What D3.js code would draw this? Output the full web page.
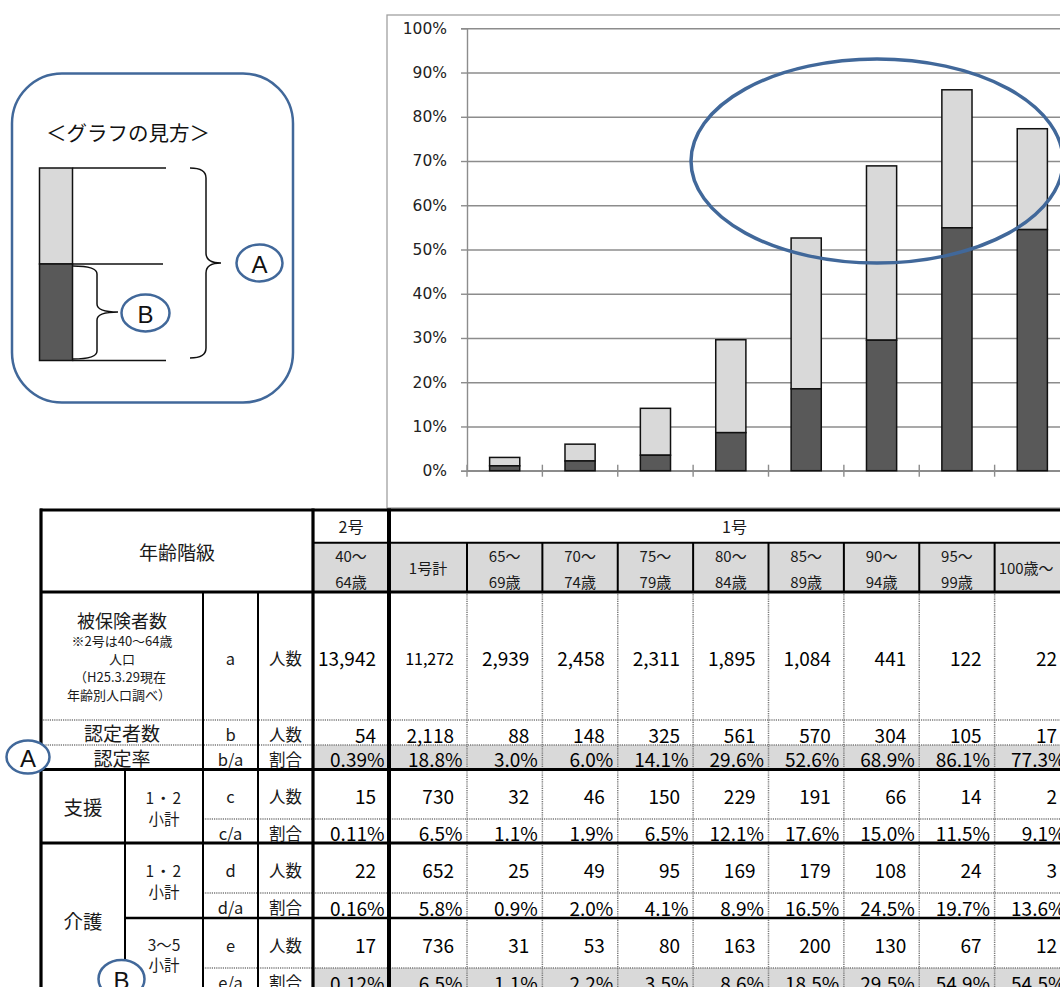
<!DOCTYPE html>
<html lang="ja">
<head>
<meta charset="UTF-8">
<title>年齢階級別 認定率</title>
<style>
  html, body { margin: 0; padding: 0; background: #fff; overflow: hidden; }
  svg { display: block; font-family: "Noto Sans CJK JP", "Noto Sans", sans-serif; }
</style>
</head>
<body>
<svg width="1100" height="1000"></svg>
<script src="https://d3js.org/d3.v7.min.js"></script>
<script>

const categories = ["65～69歳", "70～74歳", "75～79歳", "80～84歳", "85～89歳", "90～94歳", "95～99歳", "100歳～"];
const colTop    = ["40～", "1号計", "65～", "70～", "75～", "80～", "85～", "90～", "95～", "100歳～"];
const colBottom = ["64歳", "", "69歳", "74歳", "79歳", "84歳", "89歳", "94歳", "99歳", ""];

const insured   = [13942, 11272, 2939, 2458, 2311, 1895, 1084, 441, 122, 22];   // a
const certified = [54, 2118, 88, 148, 325, 561, 570, 304, 105, 17];            // b
const certRate  = [0.39, 18.8, 3.0, 6.0, 14.1, 29.6, 52.6, 68.9, 86.1, 77.3];  // b/a
const support12 = [15, 730, 32, 46, 150, 229, 191, 66, 14, 2];                 // c
const supportRate = [0.11, 6.5, 1.1, 1.9, 6.5, 12.1, 17.6, 15.0, 11.5, 9.1];   // c/a
const care12    = [22, 652, 25, 49, 95, 169, 179, 108, 24, 3];                 // d
const care12Rate = [0.16, 5.8, 0.9, 2.0, 4.1, 8.9, 16.5, 24.5, 19.7, 13.6];    // d/a
const care35    = [17, 736, 31, 53, 80, 163, 200, 130, 67, 12];                // e
const care35Rate = [0.12, 6.5, 1.1, 2.2, 3.5, 8.6, 18.5, 29.5, 54.9, 54.5];    // e/a

const yTicks = d3.range(0, 101, 10);

const svg = d3.select("svg");
const LIGHT = "#d9d9d9", DARK = "#595959", BLUE = "#41689a";

// ---- chart ----
const x = d3.scaleBand().domain(categories).range([467, 1070]);
const y = d3.scaleLinear().domain([0, 100]).range([470.7, 28.3]);
const chartRight = 1100;

// outer frame of the chart
svg.append("rect")
    .attr("x", 387).attr("y", 15)
    .attr("width", chartRight).attr("height", 508 - 15)
    .attr("fill", "#fff").attr("stroke", "#a0a0a0").attr("stroke-width", 1.3);

// gridlines
svg.append("g")
    .attr("transform", "translate(467,0)")
    .call(d3.axisLeft(y).tickValues(yTicks).tickSize(-(chartRight - 467)).tickFormat(""))
    .call(g => g.select(".domain").remove())
    .call(g => g.selectAll("line").attr("stroke", "#8c8c8c").attr("stroke-width", 1.4));

// y axis with labels
svg.append("g")
    .attr("transform", "translate(467,0)")
    .call(d3.axisLeft(y).tickValues(yTicks).tickSize(6).tickPadding(14).tickFormat(d => d + "%"))
    .call(g => g.select(".domain").attr("stroke", "#8c8c8c").attr("stroke-width", 1.4))
    .call(g => g.selectAll("line").attr("stroke", "#8c8c8c").attr("stroke-width", 1.4))
    .call(g => g.selectAll("text")
        .attr("font-family", "DejaVu Sans, sans-serif")
        .attr("font-size", 15.5).attr("fill", "#222"));

// x axis line and category ticks
svg.append("line")
    .attr("x1", 467).attr("x2", chartRight)
    .attr("y1", y(0)).attr("y2", y(0))
    .attr("stroke", "#8c8c8c").attr("stroke-width", 1.4);
svg.append("g").selectAll("line")
    .data(categories)
    .join("line")
    .attr("x1", d => x(d)).attr("x2", d => x(d))
    .attr("y1", y(0) - 6).attr("y2", y(0) + 6)
    .attr("stroke", "#8c8c8c").attr("stroke-width", 1.4);

// stacked bars: dark = 介護3～5 (e/a), light = rest up to 認定率 (b/a)
const barW = x.bandwidth() * 0.4;
const barData = categories.map((c, i) => ({ c, total: certRate[i + 2], heavy: care35Rate[i + 2] }));
const bars = svg.append("g");
bars.selectAll(".light")
    .data(barData)
    .join("rect")
    .attr("class", "light")
    .attr("x", d => x(d.c) + (x.bandwidth() - barW) / 2)
    .attr("y", d => y(d.total))
    .attr("width", barW)
    .attr("height", d => y(d.heavy) - y(d.total))
    .attr("fill", LIGHT).attr("stroke", "#111").attr("stroke-width", 1.5);
bars.selectAll(".dark")
    .data(barData)
    .join("rect")
    .attr("class", "dark")
    .attr("x", d => x(d.c) + (x.bandwidth() - barW) / 2)
    .attr("y", d => y(d.heavy))
    .attr("width", barW)
    .attr("height", d => y(0) - y(d.heavy))
    .attr("fill", DARK).attr("stroke", "#111").attr("stroke-width", 1.5);

// highlight ellipse
svg.append("ellipse")
    .attr("cx", 877).attr("cy", 161).attr("rx", 186).attr("ry", 102)
    .attr("fill", "none").attr("stroke", BLUE).attr("stroke-width", 3.5);

// ---- how-to-read panel ----
svg.append("rect")
    .attr("x", 12).attr("y", 73.5).attr("width", 281).attr("height", 329)
    .attr("rx", 50).attr("ry", 50)
    .attr("fill", "#fff").attr("stroke", BLUE).attr("stroke-width", 2.5);
svg.append("text")
    .attr("x", 46).attr("y", 132)
    .attr("dominant-baseline", "central")
    .attr("font-size", 20.5).attr("fill", "#111")
    .text("＜グラフの見方＞");
svg.append("rect").attr("x", 39.5).attr("y", 168).attr("width", 33).attr("height", 96)
    .attr("fill", LIGHT).attr("stroke", "#111").attr("stroke-width", 1.5);
svg.append("rect").attr("x", 39.5).attr("y", 264).attr("width", 33).attr("height", 96.5)
    .attr("fill", DARK).attr("stroke", "#111").attr("stroke-width", 1.5);
[[168, 166], [264, 163], [360.5, 166]].forEach(([ly, lx]) => {
    svg.append("line").attr("x1", 72.5).attr("x2", lx).attr("y1", ly).attr("y2", ly)
        .attr("stroke", "#111").attr("stroke-width", 1.5);
});
// braces
svg.append("path")
    .attr("d", "M190,168 Q206,168 206,178 L206,253 Q206,263 221,263 Q206,263 206,273 L206,348 Q206,358 190,358")
    .attr("fill", "none").attr("stroke", "#111").attr("stroke-width", 1.5);
svg.append("path")
    .attr("d", "M73,266 Q97,266 97,274 L97,304 Q97,312 118,312 Q97,312 97,320 L97,351 Q97,359 73,359")
    .attr("fill", "none").attr("stroke", "#111").attr("stroke-width", 1.5);

function badge(cx, cy, rx, ry, label) {
    svg.append("ellipse").attr("cx", cx).attr("cy", cy).attr("rx", rx).attr("ry", ry)
        .attr("fill", "#fff").attr("stroke", BLUE).attr("stroke-width", 2.5);
    svg.append("text").attr("x", cx).attr("y", cy + 1)
        .attr("text-anchor", "middle").attr("dominant-baseline", "central")
        .attr("font-family", "Liberation Sans, sans-serif")
        .attr("font-size", 24).attr("fill", "#111").text(label);
}
badge(259.5, 263, 23, 18.5, "A");
badge(145.5, 313, 24, 18.5, "B");

// ---- table ----
const colL = [313, 389, ...categories.map(c => x(c))];
const colR = [389, 467, ...categories.map(c => x(c) + x.bandwidth())];
const tableRight = 1100;

const T = svg.append("g");
const rows = [
    { vals: insured,     pct: false, y0: 592,   y1: 720, shade: false, letter: "a",   unit: "人数" },
    { vals: certified,   pct: false, y0: 720,   y1: 745, shade: false, letter: "b",   unit: "人数" },
    { vals: certRate,    pct: true,  y0: 745,   y1: 769.5, shade: true, letter: "b/a", unit: "割合" },
    { vals: support12,   pct: false, y0: 769.5, y1: 819, shade: false, letter: "c",   unit: "人数" },
    { vals: supportRate, pct: true,  y0: 819,   y1: 843, shade: false, letter: "c/a", unit: "割合" },
    { vals: care12,      pct: false, y0: 843,   y1: 893, shade: false, letter: "d",   unit: "人数" },
    { vals: care12Rate,  pct: true,  y0: 893,   y1: 918, shade: false, letter: "d/a", unit: "割合" },
    { vals: care35,      pct: false, y0: 918,   y1: 968, shade: false, letter: "e",   unit: "人数" },
    { vals: care35Rate,  pct: true,  y0: 968,   y1: 993, shade: true,  letter: "e/a", unit: "割合" }
];

// shading
T.append("rect").attr("x", 313).attr("y", 542.7).attr("width", tableRight - 313).attr("height", 592 - 542.7)
    .attr("fill", LIGHT);
rows.filter(r => r.shade).forEach(r => {
    T.append("rect").attr("x", 313).attr("y", r.y0).attr("width", tableRight - 313).attr("height", r.y1 - r.y0)
        .attr("fill", LIGHT);
});

function hline(yy, x1, x2, w, dotted) {
    T.append("line").attr("x1", x1).attr("x2", x2).attr("y1", yy).attr("y2", yy)
        .attr("stroke", dotted ? "#7a7a7a" : "#000").attr("stroke-width", w)
        .attr("stroke-dasharray", dotted ? "1.2,1" : null);
}
function vline(xx, y1, y2, w, dotted) {
    T.append("line").attr("x1", xx).attr("x2", xx).attr("y1", y1).attr("y2", y2)
        .attr("stroke", dotted ? "#7a7a7a" : "#000").attr("stroke-width", w)
        .attr("stroke-dasharray", dotted ? "1.2,1" : null);
}

// dotted cell borders
[720, 745].forEach(v => hline(v, 41, tableRight, 1.5, true));
[819, 893, 968].forEach(v => hline(v, 203, tableRight, 1.5, true));
colR.slice(1).forEach(v => vline(v, 592, 1000, 1.5, true));
// solid borders
colR.slice(1).forEach(v => vline(v, 542.7, 592, 2, false));
hline(542.7, 313, tableRight, 2, false);
vline(203, 592, 1000, 2, false);
vline(258, 592, 1000, 2, false);
vline(125, 769.5, 1000, 2, false);
hline(918, 125, tableRight, 2.5, false);
[510, 592, 769.5, 843].forEach(v => hline(v, 40, tableRight, 3.2, false));
vline(41, 508.5, 1000, 3.2, false);
vline(313, 508.5, 1000, 3.2, false);
vline(389, 508.5, 1000, 4, false);

function label(tx, ty, str, size, anchor) {
    return T.append("text").attr("x", tx).attr("y", ty)
        .attr("text-anchor", anchor || "middle").attr("dominant-baseline", "central")
        .attr("font-size", size).attr("fill", "#1a1a1a").text(str);
}

// header
label(177, 551, "年齢階級", 19);
label(351, 526, "2号", 16);
label((389 + colR[colR.length - 1]) / 2 + 5, 526, "1号", 16);
colTop.forEach((t, i) => {
    const cx = (colL[i] + colR[i]) / 2;
    if (colBottom[i]) {
        label(cx, 555, t, 15);
        label(cx, 581, colBottom[i], 15);
    } else if (i === colTop.length - 1) {
        label(colL[i] + 4, 567, t, 15, "start");
    } else {
        label(cx, 567, t, 15);
    }
});

// row labels
label(122, 620, "被保険者数", 18);
label(122, 640, "※2号は40～64歳", 13);
label(122, 658, "人口", 13);
label(120, 676, "（H25.3.29現在", 13);
label(119, 694, "年齢別人口調べ）", 13);
label(122, 732, "認定者数", 19);
label(122, 757.5, "認定率", 19);
label(83, 806, "支援", 19.5);
label(83, 920, "介護", 19.5);
[[797, "1・2"], [818, "小計"], [870, "1・2"], [891, "小計"], [944, "3～5"], [964, "小計"]]
    .forEach(([ty, s]) => label(164, ty, s, 15.5).attr("letter-spacing", s === "1・2" ? 1.5 : 0));

rows.forEach(r => {
    const cy = (r.y0 + r.y1) / 2 + 1.5;
    label(230.5, cy, r.letter, 16.5);
    label(285.5, cy, r.unit, 16.5);
    r.vals.forEach((v, i) => {
        const txt = r.pct ? (i === 0 ? v.toFixed(2) : v.toFixed(1)) + "%" : d3.format(",")(v);
        const small = !r.pct && r === rows[0] && i === 1;
        label(colR[i] - (r.pct ? 4.5 : 13), cy, txt, small ? 16 : 19, "end").attr("fill", "#000");
    });
});

// A / B markers on the table
badge(28, 757, 21.5, 16.5, "A");
badge(121.5, 979, 23, 19, "B");

</script>
</body>
</html>
